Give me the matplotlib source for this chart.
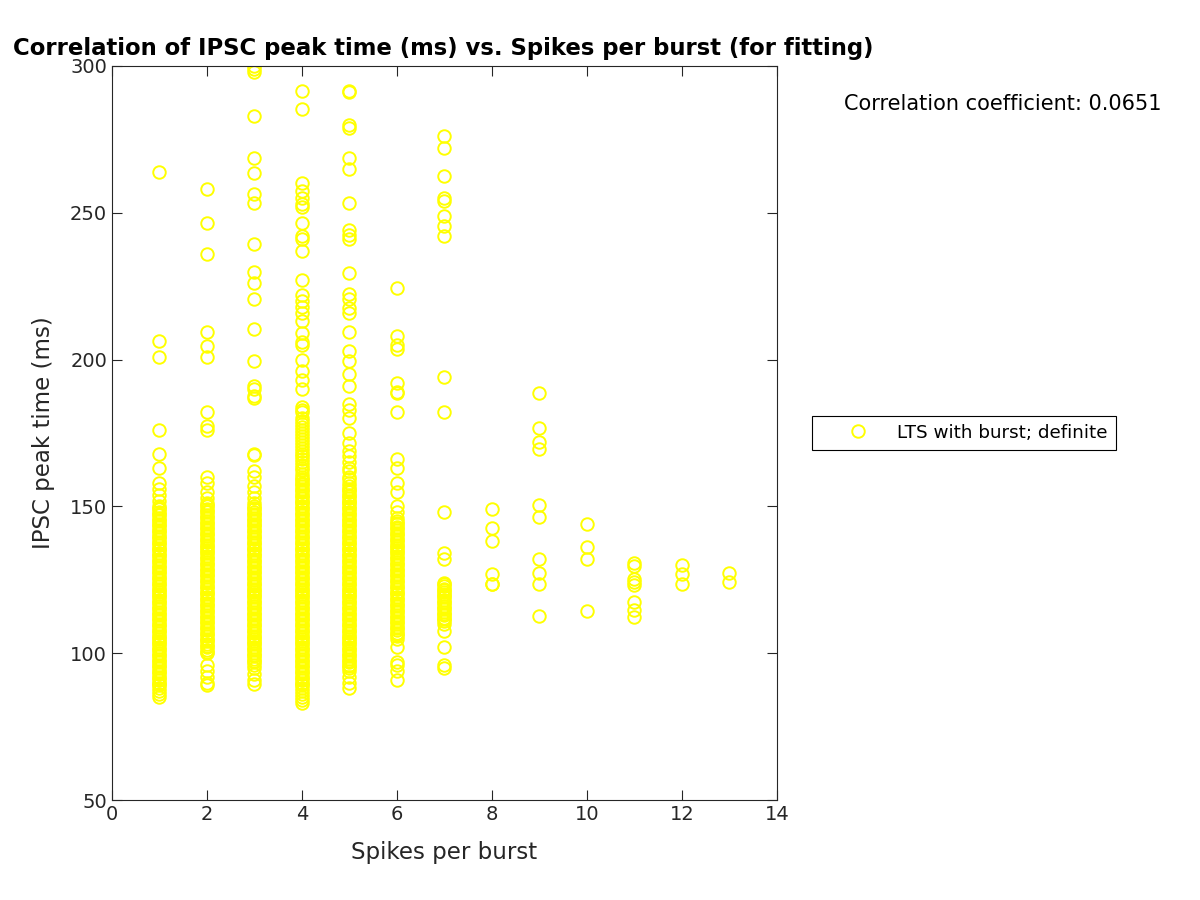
import numpy as np
import matplotlib
matplotlib.use("Agg")
import matplotlib.pyplot as plt

# spikes per burst -> IPSC peak time (ms)
spb1 = [264, 206.5, 201, 176, 168, 163, 158, 156, 154, 152,
        150, 149, 148, 147, 146, 145, 144, 143, 142, 141, 140, 139, 138, 137, 136,
        135, 134, 133, 132, 131, 130, 129, 128, 127, 126, 125, 124, 123, 122, 121,
        120, 119, 118, 117, 116, 115, 114, 113, 112, 111, 110, 109, 108, 107, 106,
        105, 104, 103, 102, 101, 100, 99, 98, 97, 96, 95, 94, 93, 92, 91, 90, 89,
        88, 87, 86, 85,
        149.5, 147.5, 145.5, 143.5, 141.5, 139.5, 137.5, 135.5, 133.5, 131.5, 129.5,
        127.5, 125.5, 123.5, 121.5, 119.5, 117.5, 115.5, 113.5, 111.5, 109.5, 107.5,
        105.5, 103.5, 101.5, 99.5, 97.5, 95.5, 93.5, 91.5, 89.5]
spb2 = [258, 246.5, 236, 209.5, 204.5, 201, 182, 177.5, 176, 160, 158, 155, 153,
        151, 150, 149, 148, 147, 146, 145, 144, 143, 142, 141, 140, 139, 138, 137,
        136, 135, 134, 133, 132, 131, 130, 129, 128, 127, 126, 125, 124, 123, 122,
        121, 120, 119, 118, 117, 116, 115, 114, 113, 112, 111, 110, 109, 108, 107,
        106, 105, 104, 103, 102, 101, 100, 96, 94, 92, 90, 89,
        150.5, 148.5, 146.5, 144.5, 142.5, 140.5, 138.5, 136.5, 134.5, 132.5, 130.5,
        128.5, 126.5, 124.5, 122.5, 120.5, 118.5, 116.5, 114.5, 112.5, 110.5, 108.5,
        106.5, 104.5, 102.5, 100.5]
spb3 = [300, 299, 298, 283, 268.5, 263.5, 256.5, 253.5, 239.5, 230, 226, 220.5,
        210.5, 199.5, 191, 190, 187.5, 187, 168, 167.5, 162, 160, 157, 155, 153,
        151, 150, 149, 148, 147, 146, 145, 144, 143, 142, 141, 140, 139, 138, 137,
        136, 135, 134, 133, 132, 131, 130, 129, 128, 127, 126, 125, 124, 123, 122,
        121, 120, 119, 118, 117, 116, 115, 114, 113, 112, 111, 110, 109, 108, 107,
        106, 105, 104, 103, 102, 101, 100, 99, 98, 97, 96, 95, 93, 91, 89.5,
        149.5, 147.5, 145.5, 143.5, 141.5, 139.5, 137.5, 135.5, 133.5, 131.5, 129.5,
        127.5, 125.5, 123.5, 121.5, 119.5, 117.5, 115.5, 113.5, 111.5, 109.5, 107.5,
        105.5, 103.5, 101.5, 99.5, 97.5]
spb4 = [291.5, 285.5, 260, 257.5, 255, 253, 252, 246.5, 242, 241, 237, 227, 222,
        220, 218, 216, 213, 209, 206, 205, 200, 196, 193, 190, 184, 182, 180, 178,
        176, 174, 172, 170, 168, 166, 164, 163, 161, 160, 159, 158, 157, 156, 155,
        154, 153, 152, 151, 150, 149, 148, 147, 146, 145, 144, 143, 142, 141, 140,
        139, 138, 137, 136, 135, 134, 133, 132, 131, 130, 129, 128, 127, 126, 125,
        124, 123, 122, 121, 120, 119, 118, 117, 116, 115, 114, 113, 112, 111, 110,
        109, 108, 107, 106, 105, 104, 103, 102, 101, 100, 99, 98, 97, 96, 95, 94,
        93, 92, 91, 90, 89, 88, 86, 85, 84, 83,
        183, 179, 177, 175, 173, 171, 169, 167, 165, 162.5, 159.5, 157.5, 155.5,
        153.5, 151.5, 149.5, 147.5, 145.5, 143.5, 141.5, 139.5, 137.5, 135.5, 133.5,
        131.5, 129.5, 127.5, 125.5, 123.5, 121.5, 119.5, 117.5, 115.5, 113.5, 111.5,
        109.5, 107.5, 105.5, 103.5, 101.5, 99.5, 97.5, 95.5, 93.5, 91.5, 89.5, 87]
spb5 = [291.5, 291, 280, 279, 268.5, 265, 253.5, 244, 242.5, 241, 229.5, 222.5,
        220.5, 217.5, 216, 209.5, 203, 199.5, 195, 191, 185, 183, 180, 175, 171.5,
        169, 167, 165, 163, 162, 160, 158, 157, 156, 155, 154, 153, 152, 151, 150,
        149, 148, 147, 146, 145, 144, 143, 142, 141, 140, 139, 138, 137, 136, 135,
        134, 133, 132, 131, 130, 129, 128, 127, 126, 125, 124, 123, 122, 121, 120,
        119, 118, 117, 116, 115, 114, 113, 112, 111, 110, 109, 108, 107, 106, 105,
        104, 103, 102, 101, 100, 99, 98, 97, 96, 95, 94, 92, 90, 88,
        159.5, 155.5, 153.5, 151.5, 149.5, 147.5, 145.5, 143.5, 141.5, 139.5, 137.5,
        135.5, 133.5, 131.5, 129.5, 127.5, 125.5, 123.5, 121.5, 119.5, 117.5, 115.5,
        113.5, 111.5, 109.5, 107.5, 105.5, 103.5, 101.5, 99.5, 97.5, 95.5]
spb6 = [224.5, 208, 205, 203.5, 192, 189, 188.5, 182, 166, 163, 158, 155, 150,
        148, 146, 145, 144, 143, 142, 141, 140, 139, 138, 137, 136, 135, 134, 133,
        132, 131, 130, 129, 128, 127, 126, 125, 124, 123, 122, 121, 120, 119, 118,
        117, 116, 115, 114, 113, 112, 111, 110, 109, 108, 107, 106, 105, 102, 97,
        96, 94, 91,
        144.5, 142.5, 140.5, 138.5, 136.5, 134.5, 132.5, 130.5, 128.5, 126.5, 124.5,
        122.5, 120.5, 118.5, 116.5, 114.5, 112.5, 110.5, 108.5, 106.5]
spb7 = [276, 272, 262.5, 255, 254, 249, 245.5, 242, 194, 182, 148, 134, 132,
        124, 123, 122, 121, 120, 119, 118, 117, 116, 115, 114, 113, 112, 111, 110,
        107.5, 102, 96, 95,
        123.5, 121.5, 119.5, 117.5, 115.5, 113.5, 111.5]
spb8 = [149, 142.6, 138.3, 127, 123.6, 123.4]
spb9 = [188.7, 176.7, 171.8, 169.6, 150.5, 146.3, 132, 127.2, 123.6, 112.8]
spb10 = [144, 136.3, 132, 114.4]
spb11 = [130.6, 129.8, 125.2, 124.1, 123.3, 117.3, 114.7, 112.2]
spb12 = [130, 127, 123.5]
spb13 = [127.2, 124.1]

columns = [spb1, spb2, spb3, spb4, spb5, spb6, spb7, spb8, spb9, spb10,
           spb11, spb12, spb13]
corr_text = "Correlation coefficient: 0.0651"

x = np.concatenate([np.full(len(c), i + 1) for i, c in enumerate(columns)])
y = np.concatenate([np.array(c, dtype=float) for c in columns])

plt.rcParams['font.family'] = ['DejaVu Sans']
fig = plt.figure(figsize=(12, 9), dpi=100)
ax = fig.add_axes([0.0933, 0.1111, 0.5542, 0.8156])

ax.plot(x, y, linestyle='none', marker='o', markersize=9, markerfacecolor='none',
        markeredgecolor='#ffff00', markeredgewidth=1.4, label='LTS with burst; definite')

ax.set_xlim(0, 14)
ax.set_ylim(50, 300)
ax.set_xticks(np.arange(0, 15, 2))
ax.set_yticks(np.arange(50, 301, 50))
ax.tick_params(direction='in', top=True, right=True, labelsize=14, colors='#262626',
               length=7, width=0.8)
for sp in ax.spines.values():
    sp.set_color('#262626')
    sp.set_linewidth(0.8)

ax.set_xlabel('Spikes per burst', fontsize=16.5, color='#262626', labelpad=12)
ax.set_ylabel('IPSC peak time (ms)', fontsize=16.5, color='#262626', labelpad=11)
fig.text(0.369, 0.946, 'Correlation of IPSC peak time (ms) vs. Spikes per burst (for fitting)',
         ha='center', va='center', fontsize=16.4, fontweight='bold')
fig.text(0.7035, 0.884, corr_text, ha='left', va='center', fontsize=15)

leg = fig.legend(loc='center left', bbox_to_anchor=(0.6767, 0.519), fontsize=13.2,
                 fancybox=False, edgecolor='black', framealpha=1, borderaxespad=0,
                 borderpad=0.45, handletextpad=0.1, handlelength=4.1)
leg.get_frame().set_linewidth(0.8)

fig.savefig('out.png', dpi=100)
